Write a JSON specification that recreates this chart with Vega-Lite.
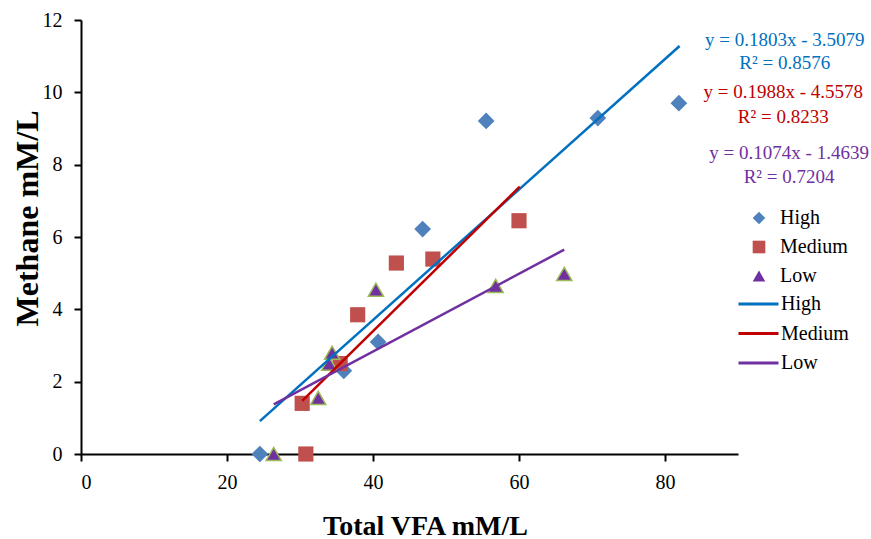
{
  "$schema": "https://vega.github.io/schema/vega-lite/v6.json",
  "width": 657,
  "height": 434,
  "autosize": "none",
  "padding": {"left": 81, "top": 20, "right": 133, "bottom": 85},
  "background": "white",
  "config": {
    "view": {"stroke": null},
    "font": "Liberation Serif",
    "legend": {"labelFont": "Liberation Serif", "labelFontSize": 20, "labelColor": "black"},
    "axis": {
      "grid": false,
      "domainColor": "black",
      "domainWidth": 2,
      "tickColor": "black",
      "tickWidth": 2,
      "tickSize": 7,
      "labelFont": "Liberation Serif",
      "labelFontSize": 20,
      "labelColor": "black",
      "titleFont": "Liberation Serif",
      "titleFontWeight": "bold",
      "titleColor": "black"
    }
  },
  "datasets": {
    "points": [
      {"group": "High", "vfa": 24.5, "methane": 0},
      {"group": "High", "vfa": 36.0, "methane": 2.3},
      {"group": "High", "vfa": 40.7, "methane": 3.1},
      {"group": "High", "vfa": 46.8, "methane": 6.22},
      {"group": "High", "vfa": 55.5, "methane": 9.21},
      {"group": "High", "vfa": 70.8, "methane": 9.29},
      {"group": "High", "vfa": 81.9, "methane": 9.7},
      {"group": "Medium", "vfa": 30.8, "methane": 0},
      {"group": "Medium", "vfa": 30.3, "methane": 1.4},
      {"group": "Medium", "vfa": 35.5, "methane": 2.5},
      {"group": "Medium", "vfa": 37.9, "methane": 3.85},
      {"group": "Medium", "vfa": 43.2, "methane": 5.28},
      {"group": "Medium", "vfa": 48.2, "methane": 5.39},
      {"group": "Medium", "vfa": 60.0, "methane": 6.45},
      {"group": "Low", "vfa": 26.4, "methane": 0},
      {"group": "Low", "vfa": 32.5, "methane": 1.55},
      {"group": "Low", "vfa": 34.0, "methane": 2.5},
      {"group": "Low", "vfa": 34.4, "methane": 2.8},
      {"group": "Low", "vfa": 40.4, "methane": 4.54},
      {"group": "Low", "vfa": 56.8, "methane": 4.65},
      {"group": "Low", "vfa": 66.2, "methane": 4.98}
    ],
    "fits": [
      {"fit": "High ", "vfa": 24.5, "methane": 0.909},
      {"fit": "High ", "vfa": 82.0, "methane": 11.28},
      {"fit": "Medium ", "vfa": 30.3, "methane": 1.466},
      {"fit": "Medium ", "vfa": 60.1, "methane": 7.39},
      {"fit": "Low ", "vfa": 26.4, "methane": 1.372},
      {"fit": "Low ", "vfa": 66.2, "methane": 5.65}
    ],
    "labels": [
      {"fit": "High ", "vfa": 96.4, "methane": 11.45, "text": "y = 0.1803x - 3.5079"},
      {"fit": "High ", "vfa": 96.4, "methane": 10.82, "text": "R² = 0.8576"},
      {"fit": "Medium ", "vfa": 96.2, "methane": 10.0, "text": "y = 0.1988x - 4.5578"},
      {"fit": "Medium ", "vfa": 96.2, "methane": 9.33, "text": "R² = 0.8233"},
      {"fit": "Low ", "vfa": 97.0, "methane": 8.33, "text": "y = 0.1074x - 1.4639"},
      {"fit": "Low ", "vfa": 97.0, "methane": 7.66, "text": "R² = 0.7204"}
    ]
  },
  "layer": [
    {
      "data": {"name": "points"},
      "mark": {"type": "point", "filled": true, "opacity": 1, "stroke": "#9BBB59"},
      "encoding": {
        "x": {
          "field": "vfa", "type": "quantitative",
          "scale": {"domain": [0, 90], "nice": false},
          "axis": {"title": "Total VFA mM/L", "titleFontSize": 28, "values": [0, 20, 40, 60, 80], "labelPadding": 11, "titleX": 344, "titleY": 80, "titleBaseline": "alphabetic"}
        },
        "y": {
          "field": "methane", "type": "quantitative",
          "scale": {"domain": [0, 12], "nice": false},
          "axis": {"title": "Methane  mM/L", "titleFontSize": 32, "values": [0, 2, 4, 6, 8, 10, 12], "labelPadding": 12, "titleX": -44, "titleY": 198, "titleBaseline": "alphabetic"}
        },
        "fill": {
          "field": "group", "type": "nominal",
          "scale": {"domain": ["High", "Medium", "Low"], "range": ["#4F81BD", "#C0504D", "#7030A0"]},
          "legend": {"orient": "none", "legendX": 668, "legendY": 188, "title": null, "labelFont": "Liberation Serif", "labelFontSize": 20, "symbolSize": 160, "rowPadding": 9, "labelOffset": 11, "symbolStrokeWidth": 0}
        },
        "shape": {
          "field": "group", "type": "nominal",
          "scale": {"domain": ["High", "Medium", "Low"], "range": ["diamond", "square", "triangle-up"]}
        },
        "size": {"condition": {"test": "datum.group === 'High'", "value": 280}, "value": 230},
        "strokeWidth": {"condition": {"test": "datum.group === 'Low'", "value": 1.5}, "value": 0}
      }
    },
    {
      "data": {"name": "fits"},
      "mark": {"type": "line", "strokeWidth": 2.5},
      "encoding": {
        "x": {"field": "vfa", "type": "quantitative"},
        "y": {"field": "methane", "type": "quantitative"},
        "stroke": {
          "field": "fit", "type": "nominal",
          "scale": {"domain": ["High ", "Medium ", "Low "], "range": ["#0070C0", "#C00000", "#7030A0"]},
          "legend": {"orient": "none", "legendX": 656, "legendY": 272, "title": null, "labelFont": "Liberation Serif", "labelFontSize": 20, "symbolType": "stroke", "symbolSize": 1600, "symbolStrokeWidth": 3, "clipHeight": 24, "rowPadding": 5.5, "labelOffset": 1}
        }
      }
    },
    {
      "data": {"name": "labels"},
      "mark": {"type": "text", "fontSize": 19, "font": "Liberation Serif", "align": "center", "baseline": "middle", "clip": false},
      "encoding": {
        "x": {"field": "vfa", "type": "quantitative"},
        "y": {"field": "methane", "type": "quantitative"},
        "text": {"field": "text"},
        "color": {
          "field": "fit", "type": "nominal",
          "scale": {"domain": ["High ", "Medium ", "Low "], "range": ["#0070C0", "#C00000", "#7030A0"]},
          "legend": null
        }
      }
    }
  ]
}
